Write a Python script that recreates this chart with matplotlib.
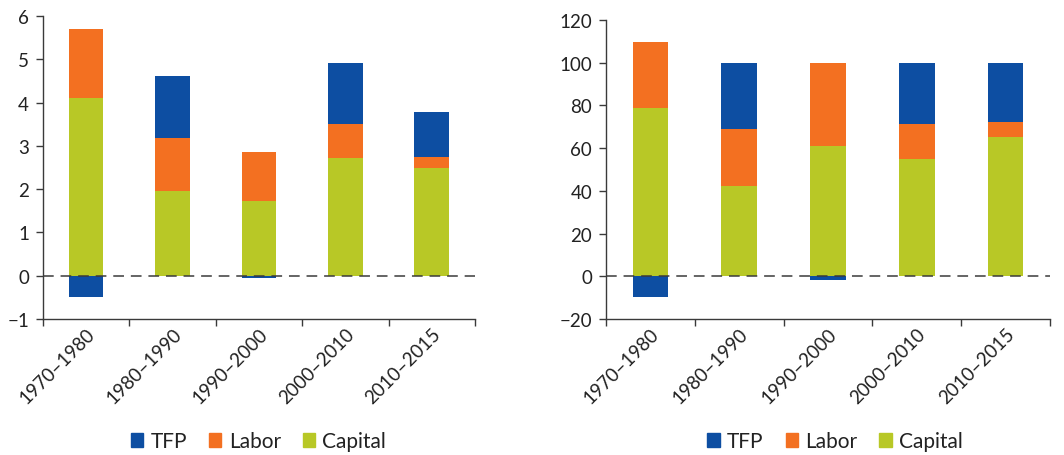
import matplotlib
matplotlib.use("Agg")
import matplotlib.pyplot as plt
import numpy as np
from matplotlib.patches import Patch

plt.rcParams["font.family"] = ["Lato", "DejaVu Sans"]

periods = ["1970–1980", "1980–1990", "1990–2000", "2000–2010", "2010–2015"]

# left panel: contributions to growth (percentage points)
growth_capital = [4.1, 1.95, 1.73, 2.72, 2.48]
growth_labor = [1.6, 1.23, 1.12, 0.79, 0.26]
growth_tfp = [-0.5, 1.43, -0.05, 1.41, 1.04]

# right panel: shares of growth (percent)
share_capital = [78.7, 42.1, 60.8, 55.1, 65.3]
share_labor = [30.8, 26.9, 39.3, 16.1, 6.8]
share_tfp = [-9.5, 31.0, -1.9, 28.8, 27.9]

C_TFP = "#0d4ea2"
C_LABOR = "#f37021"
C_CAPITAL = "#b8c826"
DARK = "#3a3a3a"


def draw_panel(ax, capital, labor, tfp, ylim, step):
    x = np.arange(len(periods))
    capital = np.array(capital)
    labor = np.array(labor)
    tfp = np.array(tfp)
    w = 0.4
    ax.bar(x, capital, w, color=C_CAPITAL, linewidth=0)
    ax.bar(x, labor, w, bottom=capital, color=C_LABOR, linewidth=0)
    tfp_bottom = np.where(tfp < 0, 0, capital + labor)
    ax.bar(x, tfp, w, bottom=tfp_bottom, color=C_TFP, linewidth=0)
    ax.axhline(0, color=DARK, lw=1.1, ls=(0, (7, 4.5)), zorder=3)

    ax.set_xlim(-0.5, len(periods) - 0.5)
    ax.set_ylim(*ylim)
    ax.set_yticks(np.arange(ylim[0], ylim[1] + step / 2, step))
    ax.set_xticks(np.arange(-0.5, len(periods)), labels=[""] * (len(periods) + 1))
    ax.set_xticks(x, labels=periods, minor=True)
    ax.tick_params(axis="x", which="minor", length=0, pad=4)
    ax.tick_params(axis="x", which="major", length=5, width=1, color=DARK, direction="out")
    ax.tick_params(axis="y", length=5, width=1, color=DARK, direction="out", pad=5)
    ax.tick_params(which="both", labelsize=13.5, labelcolor="#222222")
    for lab in ax.get_xticklabels(minor=True):
        lab.set_rotation(45)
        lab.set_ha("right")
        lab.set_va("top")
        lab.set_rotation_mode("anchor")
    for side in ["top", "right"]:
        ax.spines[side].set_visible(False)
    for side in ["left", "bottom"]:
        ax.spines[side].set_color(DARK)
        ax.spines[side].set_linewidth(1)

    handles = [Patch(color=C_TFP, label="TFP"),
               Patch(color=C_LABOR, label="Labor"),
               Patch(color=C_CAPITAL, label="Capital")]
    ax.legend(handles=handles, loc="center", ncol=3, frameon=False,
              bbox_to_anchor=(0.5, -0.0), bbox_transform=ax.figure.transFigure,
              fontsize=15, handlelength=0.6, handleheight=0.6,
              handletextpad=0.35, columnspacing=1.05, labelcolor="#222222")


fig = plt.figure(figsize=(10.64, 4.56), dpi=100)
ax1 = fig.add_axes([0.0404, 0.2982, 0.406, 0.6645])
ax2 = fig.add_axes([0.5695, 0.2982, 0.4173, 0.6557])

draw_panel(ax1, growth_capital, growth_labor, growth_tfp, (-1, 6), 1)
draw_panel(ax2, share_capital, share_labor, share_tfp, (-20, 120), 20)

# place legends under each panel
leg1 = ax1.get_legend()
leg1.set_bbox_to_anchor((0.243, 0.03), transform=fig.transFigure)
leg2 = ax2.get_legend()
leg2.set_bbox_to_anchor((0.785, 0.03), transform=fig.transFigure)

fig.savefig("out.png", dpi=100)
